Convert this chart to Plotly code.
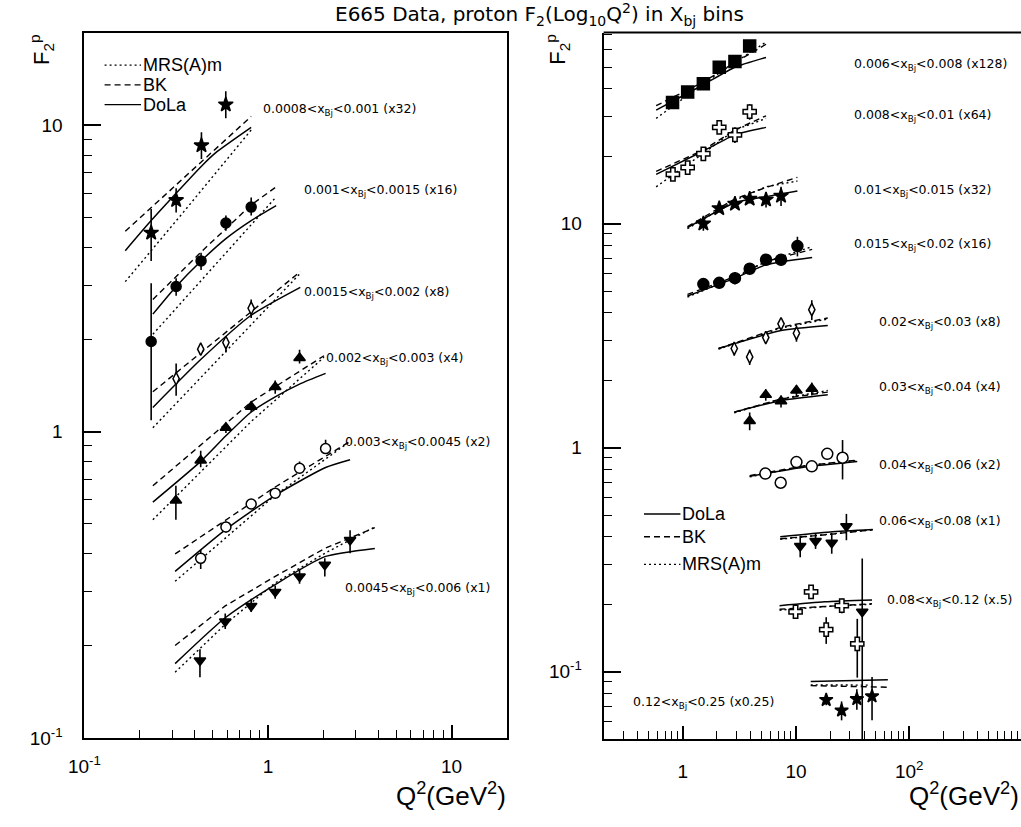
import plotly.graph_objects as go

W, H = 1021, 827

# ---------------- LEFT PANEL DATA (values as plotted, already scaled) ----------------
L_LABELS = ["0.0008<x<sub>Bj</sub><0.001 (x32)", "0.001<x<sub>Bj</sub><0.0015 (x16)",
            "0.0015<x<sub>Bj</sub><0.002 (x8)", "0.002<x<sub>Bj</sub><0.003 (x4)",
            "0.003<x<sub>Bj</sub><0.0045 (x2)", "0.0045<x<sub>Bj</sub><0.006 (x1)"]
L_SYMBOLS = ["star", "circle", "diamond-tall-open", "triangle-up", "circle-open", "triangle-down"]
L_Q2 = [
    [0.231, 0.316, 0.434, 0.589],
    [0.231, 0.316, 0.432, 0.590, 0.810],
    [0.316, 0.430, 0.590, 0.810],
    [0.315, 0.430, 0.590, 0.810, 1.095, 1.486],
    [0.430, 0.590, 0.810, 1.095, 1.486, 2.060],
    [0.426, 0.585, 0.810, 1.095, 1.486, 2.040, 2.800],
]
L_F2 = [
    [4.46, 5.70, 8.60, 11.69],
    [1.97, 2.98, 3.61, 4.80, 5.41],
    [1.49, 1.86, 1.955, 2.53],
    [0.596, 0.806, 1.03, 1.207, 1.40, 1.74],
    [0.386, 0.489, 0.581, 0.630, 0.760, 0.881],
    [0.179, 0.240, 0.270, 0.300, 0.337, 0.368, 0.443],
]
L_ERR_UP = [
    [0.87, 0.53, 0.89, 1.24],
    [1.08, 0.19, 0.23, 0.28, 0.40],
    [0.18, 0.06, 0.10, 0.17],
    [0.07, 0.06, 0.04, 0.05, 0.07, 0.11],
    [0.025, 0.02, 0.02, 0.025, 0.04, 0.06],
    [0.016, 0.015, 0.015, 0.015, 0.02, 0.018, 0.034],
]
L_ERR_DN = [
    [0.85, 0.50, 0.83, 1.14],
    [0.88, 0.20, 0.24, 0.27, 0.33],
    [0.18, 0.08, 0.14, 0.18],
    [0.08, 0.04, 0.04, 0.05, 0.07, 0.07],
    [0.03, 0.02, 0.02, 0.02, 0.03, 0.03],
    [0.021, 0.013, 0.012, 0.015, 0.018, 0.031, 0.042],
]
# model curves (DoLa solid, BK dashed, MRS(A)m dotted)
L_DOLA_Q = [[0.167, 0.231, 0.434, 0.516, 0.81], [0.236, 0.316, 0.432, 0.59, 0.81, 1.108],
            [0.236, 0.43, 0.81, 1.5], [0.236, 0.43, 0.59, 0.81, 1.095, 1.486, 2.06],
            [0.312, 0.59, 1.095, 2.06, 2.80], [0.312, 0.585, 1.095, 2.04, 3.82]]
L_DOLA_F = [[3.90, 4.89, 7.36, 8.12, 9.85], [2.42, 2.98, 3.61, 4.27, 4.89, 5.47],
            [1.20, 1.72, 2.40, 2.96], [0.589, 0.80, 0.97, 1.16, 1.30, 1.43, 1.55],
            [0.35, 0.48, 0.62, 0.764, 0.81], [0.175, 0.247, 0.317, 0.391, 0.416]]
L_BK_Q = [[0.167, 0.35, 0.81], [0.236, 0.43, 0.81, 1.108], [0.236, 0.59, 1.5],
          [0.236, 0.81, 2.02], [0.312, 1.095, 2.80], [0.312, 0.585, 1.095, 2.04, 3.82]]
L_BK_F = [[4.51, 6.75, 10.7], [2.70, 3.85, 5.5, 6.3], [1.35, 2.11, 3.33],
          [0.666, 1.25, 1.77], [0.399, 0.66, 0.93], [0.2005, 0.270, 0.337, 0.416, 0.486]]
L_MRS_Q = [[0.167, 0.35, 0.81], [0.236, 0.59, 1.108], [0.236, 0.59, 1.5],
           [0.236, 0.81, 2.02], [0.312, 1.095, 2.80], [0.312, 0.585, 1.095, 2.04, 3.82]]
L_MRS_F = [[3.09, 5.25, 9.66], [2.08, 3.83, 5.84], [1.03, 1.83, 3.29],
           [0.516, 1.08, 1.75], [0.325, 0.62, 0.93], [0.164, 0.235, 0.321, 0.401, 0.489]]

# ---------------- RIGHT PANEL DATA ----------------
R_LABELS = ["0.006<x<sub>Bj</sub><0.008 (x128)", "0.008<x<sub>Bj</sub><0.01 (x64)",
            "0.01<x<sub>Bj</sub><0.015 (x32)", "0.015<x<sub>Bj</sub><0.02 (x16)",
            "0.02<x<sub>Bj</sub><0.03 (x8)", "0.03<x<sub>Bj</sub><0.04 (x4)",
            "0.04<x<sub>Bj</sub><0.06 (x2)", "0.06<x<sub>Bj</sub><0.08 (x1)",
            "0.08<x<sub>Bj</sub><0.12 (x.5)", "0.12<x<sub>Bj</sub><0.25 (x0.25)"]
R_SYMBOLS = ["square", "cross-open", "star", "circle", "diamond-tall-open",
             "triangle-up", "circle-open", "triangle-down", "cross-open", "star"]
R_Q2 = [
    [0.812, 1.105, 1.52, 2.10, 2.89, 3.90],
    [0.818, 1.105, 1.52, 2.10, 2.89, 3.90],
    [1.52, 2.10, 2.89, 3.90, 5.44, 7.38],
    [1.52, 2.10, 2.89, 3.90, 5.44, 7.38, 10.3],
    [2.85, 3.90, 5.41, 7.38, 10.1, 13.8],
    [3.90, 5.41, 7.38, 10.1, 13.8],
    [5.37, 7.33, 10.1, 13.8, 18.9, 25.8],
    [10.9, 14.9, 20.7, 27.9, 38.5],
    [9.92, 13.6, 18.5, 25.4, 34.8],
    [18.5, 25.3, 34.5, 47.0],
]
R_F2 = [
    [34.7, 38.7, 42.1, 49.9, 53.0, 62.1],
    [16.6, 17.8, 20.5, 26.9, 24.9, 31.6],
    [10.0, 11.7, 12.25, 12.9, 12.8, 13.3],
    [5.37, 5.44, 5.71, 6.29, 6.90, 6.90, 7.94],
    [2.77, 2.54, 3.10, 3.57, 3.24, 4.13],
    [1.315, 1.72, 1.61, 1.80, 1.83],
    [0.766, 0.697, 0.862, 0.825, 0.938, 0.901],
    [0.364, 0.383, 0.376, 0.446, 0.185],
    [0.185, 0.227, 0.154, 0.197, 0.133],
    [0.0748, 0.0671, 0.0755, 0.0776],
]
R_ERR_UP = [
    [1.5, 1.8, 2.0, 2.3, 2.5, 4.0],
    [0.8, 1.0, 1.0, 1.2, 2.0, 2.5],
    [0.7, 0.5, 0.5, 0.6, 1.0, 1.3],
    [0.2, 0.2, 0.35, 0.3, 0.3, 0.4, 0.8],
    [0.2, 0.2, 0.15, 0.15, 0.27, 0.42],
    [0.12, 0.1, 0.1, 0.1, 0.12],
    [0.03, 0.03, 0.04, 0.04, 0.05, 0.18],
    [0.04, 0.03, 0.04, 0.06, 0.135],
    [0.012, 0.008, 0.021, 0.015, 0.039],
    [0.004, 0.0065, 0.008, 0.017],
]
R_ERR_DN = [
    [1.5, 1.8, 2.0, 2.3, 2.5, 4.0],
    [0.8, 1.0, 1.0, 1.2, 2.0, 2.5],
    [0.7, 0.5, 0.5, 0.6, 1.0, 1.3],
    [0.2, 0.2, 0.35, 0.3, 0.3, 0.4, 0.8],
    [0.2, 0.2, 0.15, 0.15, 0.27, 0.42],
    [0.12, 0.1, 0.1, 0.1, 0.12],
    [0.03, 0.03, 0.04, 0.04, 0.05, 0.18],
    [0.04, 0.03, 0.04, 0.06, 0.18],
    [0.012, 0.008, 0.021, 0.015, 0.039],
    [0.004, 0.0065, 0.008, 0.017],
]
R_DOLA_Q = [[0.582, 1.52, 2.89, 5.44], [0.582, 1.52, 2.89, 5.44], [1.10, 2.89, 5.44, 10.3],
            [1.10, 2.89, 5.44, 13.9], [2.07, 7.38, 19.1], [2.85, 7.38, 19.1],
            [3.90, 12.0, 34.8], [7.26, 20.0, 47.7], [7.16, 18.0, 47.0], [13.5, 64.8]]
R_DOLA_F = [[32.1, 41.7, 49.9, 55.2], [16.6, 21.1, 24.9, 26.9], [9.6, 12.4, 13.2, 14.0],
            [4.75, 5.71, 6.55, 7.06], [2.77, 3.33, 3.51], [1.44, 1.62, 1.72],
            [0.745, 0.82, 0.868], [0.40, 0.42, 0.431], [0.197, 0.205, 0.209], [0.0904, 0.0920]]
R_BK_Q = R_DOLA_Q
R_BK_F = [[33.6, 42.9, 52.4, 63.2], [17.1, 21.3, 26.2, 30.3], [9.7, 12.9, 14.5, 16.1],
          [4.83, 5.8, 6.78, 7.68], [2.77, 3.45, 3.79], [1.44, 1.65, 1.77],
          [0.75, 0.83, 0.88], [0.392, 0.41, 0.43], [0.19, 0.196, 0.201], [0.0866, 0.0852]]
R_MRS_Q = [[0.582, 1.52, 2.89, 5.44], [0.582, 1.52, 2.89, 5.44], [1.10, 2.89, 5.44, 10.3],
           [1.10, 2.89, 5.44, 13.9], [2.07, 7.38, 19.1], [2.85, 7.38, 19.1],
           [3.90, 12.0, 34.8], [7.26, 20.0, 47.7], [7.16, 18.0, 47.0], [13.5, 44.0]]
R_MRS_F = [[29.5, 42.1, 52.4, 64.7], [14.6, 20.6, 26.2, 29.5], [9.5, 12.7, 14.6, 15.5],
           [4.7, 5.75, 6.78, 7.89], [2.75, 3.42, 3.75], [1.43, 1.65, 1.80],
           [0.74, 0.83, 0.875], [0.39, 0.41, 0.43], [0.188, 0.195, 0.20], [0.0873, 0.0870]]

# label pixel anchors (left edge, vertical centre)
L_LABEL_POS = [(249, 111), (291, 193), (291, 296), (313, 363), (332, 448), (332, 596)]
R_LABEL_POS = [(849, 65), (849, 117), (849, 193), (849, 248), (875, 327), (875, 393),
               (875, 472), (875, 529), (883, 609), (625, 712)]

fig = go.Figure()

def add_panel(xa, ya, Q, F, EU, ED, SYM, DQ, DF, BQ, BF, MQ, MF, msize):
    for i in range(len(Q)):
        fig.add_trace(go.Scatter(x=MQ[i], y=MF[i], mode="lines", xaxis=xa, yaxis=ya,
                                 line=dict(color="black", width=1.4, dash="2px,3px"),
                                 showlegend=False, hoverinfo="skip"))
        fig.add_trace(go.Scatter(x=BQ[i], y=BF[i], mode="lines", xaxis=xa, yaxis=ya,
                                 line=dict(color="black", width=1.4, dash="6px,4px"),
                                 showlegend=False, hoverinfo="skip"))
        fig.add_trace(go.Scatter(x=DQ[i], y=DF[i], mode="lines", xaxis=xa, yaxis=ya,
                                 line=dict(color="black", width=1.5, shape="spline", smoothing=0.6),
                                 showlegend=False, hoverinfo="skip"))
        sym = SYM[i]
        is_open = sym.endswith("-open")
        fig.add_trace(go.Scatter(
            x=Q[i], y=F[i], mode="markers", xaxis=xa, yaxis=ya,
            marker=dict(symbol=sym.replace("-open", ""), size=msize[i],
                        color="white" if is_open else "black",
                        line=dict(color="black", width=1.5)),
            error_y=dict(type="data", symmetric=False, array=EU[i], arrayminus=ED[i],
                         width=0, thickness=1.6, color="black"),
            showlegend=False))

add_panel("x", "y", L_Q2, L_F2, L_ERR_UP, L_ERR_DN, L_SYMBOLS,
          L_DOLA_Q, L_DOLA_F, L_BK_Q, L_BK_F, L_MRS_Q, L_MRS_F,
          [11, 10, 9, 10, 10, 10])
add_panel("x2", "y2", R_Q2, R_F2, R_ERR_UP, R_ERR_DN, R_SYMBOLS,
          R_DOLA_Q, R_DOLA_F, R_BK_Q, R_BK_F, R_MRS_Q, R_MRS_F,
          [12, 11, 11, 11, 9, 10, 11, 10, 11, 10])

def minor(decades):
    return [m * 10 ** d for d in decades for m in range(2, 10)]

tickfont = dict(family="Liberation Sans, Arial", size=19, color="black")
axis_common = dict(type="log", showgrid=False, zeroline=False, showline=True, linecolor="black",
                   linewidth=2, mirror=True, ticks="inside", tickcolor="black", tickwidth=1.5,
                   tickfont=tickfont)

fig.update_layout(
    xaxis=dict(axis_common, domain=[69.5 / W, 499 / W], range=[-1, 1.303], anchor="y",
               tickvals=[0.1, 1, 10], ticktext=["10<sup>-1</sup>", "1", "10"], ticklen=13,
               ticklabelstandoff=10,
               minor=dict(tickvals=minor([-1, 0, 1]), ticklen=8, ticks="inside",
                          tickcolor="black", tickwidth=1.3)),
    yaxis=dict(axis_common, domain=[1 - 748 / H, 1 - 33 / H], range=[-1, 1.303], anchor="x",
               tickvals=[0.1, 1, 10], ticktext=["10<sup>-1</sup>", "1", "10"], ticklen=17,
               ticklabelstandoff=16,
               minor=dict(tickvals=minor([-1, 0, 1]), ticklen=8, ticks="inside",
                          tickcolor="black", tickwidth=1.3)),
    xaxis2=dict(axis_common, domain=[597 / W, 1.0], range=[-0.699, 2.988], anchor="y2",
                mirror=False,
                tickvals=[1, 10, 100], ticktext=["1", "10", "10<sup>2</sup>"], ticklen=13,
                ticklabelstandoff=14,
                minor=dict(tickvals=minor([-1, 0, 1, 2]), ticklen=8, ticks="inside",
                           tickcolor="black", tickwidth=1.3)),
    yaxis2=dict(axis_common, domain=[1 - 749 / H, 1 - 33 / H], range=[-1.301, 1.853], anchor="x2",
                mirror=False,
                tickvals=[0.1, 1, 10], ticktext=["10<sup>-1</sup>", "1", "10"], ticklen=17,
                ticklabelstandoff=16,
                minor=dict(tickvals=minor([-2, -1, 0, 1]), ticklen=8, ticks="inside",
                           tickcolor="black", tickwidth=1.3)),
    width=W, height=H, margin=dict(l=0, r=0, t=0, b=0),
    paper_bgcolor="white", plot_bgcolor="white", showlegend=False,
)

fig.add_shape(type="line", xref="paper", yref="paper", x0=597 / W, x1=1.0,
              y0=1 - 33 / H, y1=1 - 33 / H, line=dict(color="black", width=2))

def P(x, y):
    return x / W, 1 - y / H

annots = []
lab_font = dict(family="DejaVu Sans", size=12.5, color="black")
for txt, (px_, py_) in zip(L_LABELS + R_LABELS, L_LABEL_POS + R_LABEL_POS):
    ax, ay = P(px_, py_)
    annots.append(dict(text=txt, x=ax, y=ay, xref="paper", yref="paper", xanchor="left",
                       yanchor="middle", showarrow=False, font=lab_font))

leg_font = dict(family="Liberation Sans, Arial", size=18, color="black")
LEG_L = [("MRS(A)m", "2px,3px", 66), ("BK", "6px,4px", 86), ("DoLa", "solid", 106)]
LEG_R = [("DoLa", "solid", 521), ("BK", "6px,4px", 544), ("MRS(A)m", "2px,3px", 572)]
for items, x0, x1 in [(LEG_L, 90, 127), (LEG_R, 638, 675)]:
    for name, dash, yy in items:
        a0, b0 = P(x0, yy)
        a1, _ = P(x1, yy)
        fig.add_shape(type="line", xref="paper", yref="paper", x0=a0, x1=a1, y0=b0, y1=b0,
                      line=dict(color="black", width=1.4, dash=dash))
        tx, ty = P(x1 + 1, yy)
        annots.append(dict(text=name, x=tx, y=ty, xref="paper", yref="paper", xanchor="left",
                           yanchor="middle", showarrow=False, font=leg_font, borderpad=0))

tx, ty = P(532, 15)
annots.append(dict(text="E665 Data, proton F<sub>2</sub>(Log<sub>10</sub>Q<sup>2</sup>) in X<sub>bj</sub> bins",
                   x=tx, y=ty, xref="paper", yref="paper", xanchor="center", yanchor="middle",
                   showarrow=False, borderpad=0,
                   font=dict(family="DejaVu Sans", size=20, color="black")))
for xx in (26, 550):
    tx, ty = P(xx, 50)
    annots.append(dict(text="F<sub>2</sub><sup>p</sup>", x=tx, y=ty, xref="paper", yref="paper",
                       xanchor="center", yanchor="middle", textangle=-90, showarrow=False,
                       font=dict(family="Liberation Sans, Arial", size=22, color="black")))
for xx in (500, 1021):
    tx, ty = P(xx, 805)
    annots.append(dict(text="Q<sup>2</sup>(GeV<sup>2</sup>)", x=tx, y=ty, xref="paper", yref="paper",
                       xanchor="right", yanchor="middle", showarrow=False,
                       font=dict(family="Liberation Sans, Arial", size=26, color="black")))

fig.update_layout(annotations=annots)
fig.write_html("out.html")
